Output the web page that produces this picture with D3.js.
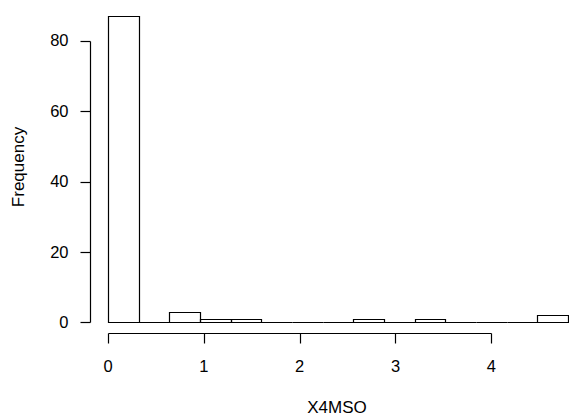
<!DOCTYPE html>
<html><head><meta charset="utf-8">
<script src="https://cdn.jsdelivr.net/npm/d3@7"></script>
<style>body{margin:0;background:#fff}text{font-family:"Liberation Sans",Arial,Helvetica,sans-serif;fill:#000}</style>
</head><body>
<script>
const binStarts = [0,0.32,0.64,0.96,1.28,1.6,1.92,2.24,2.56,2.88,3.2,3.52,3.84,4.16,4.48];
const binWidth = 0.32;
const counts = [87,0,3,1,1,0,0,0,1,0,1,0,0,0,2];
const xTicks = [0,1,2,3,4];
const yTicks = [0,20,40,60,80];
const xLabel = "X4MSO", yLabel = "Frequency";

const W=569,H=420;
const svg=d3.select("body").append("svg").attr("width",W).attr("height",H);
const x=d3.scaleLinear().domain([0,4]).range([108,491.3]);
const y=d3.scaleLinear().domain([0,80]).range([322.3,40.7]);
const fs=17, tfs=16.5;
const px=v=>Math.round(v)+0.5;

svg.append("g").selectAll("path").data(binStarts).join("path")
  .attr("d",(d,i)=>{
    const x0=px(x(d)), x1=px(x(d+binWidth)), y0=px(y(0)), y1=px(y(counts[i]));
    return `M${x0},${y0}L${x0},${y1}L${x1},${y1}L${x1},${y0}Z`;
  })
  .attr("fill","none").attr("stroke","#000").attr("stroke-width",1.2);

// x axis
const xa=svg.append("g").attr("transform","translate(0,333.5)");
xa.append("line").attr("x1",px(x(0))).attr("x2",px(x(4))).attr("stroke","#000").attr("stroke-width",1.2);
xa.selectAll(".t").data(xTicks).join("line").attr("x1",d=>px(x(d))).attr("x2",d=>px(x(d)))
  .attr("y1",0).attr("y2",10).attr("stroke","#000").attr("stroke-width",1.2);
xa.selectAll("text").data(xTicks).join("text").attr("x",d=>x(d)).attr("y",38.5).attr("text-anchor","middle")
  .style("font-size",tfs+"px").text(d=>d);

// y axis
const ya=svg.append("g").attr("transform","translate(90.5,0)");
ya.append("line").attr("y1",px(y(0))).attr("y2",px(y(80))).attr("stroke","#000").attr("stroke-width",1.2);
ya.selectAll(".t").data(yTicks).join("line").attr("y1",d=>px(y(d))).attr("y2",d=>px(y(d)))
  .attr("x1",0).attr("x2",-10).attr("stroke","#000").attr("stroke-width",1.2);
ya.selectAll("text").data(yTicks).join("text").attr("x",-22).attr("y",d=>y(d)).attr("dy","0.35em").attr("text-anchor","end")
  .style("font-size",tfs+"px").text(d=>d);

svg.append("text").attr("x",337).attr("y",413.3).attr("text-anchor","middle").style("font-size",fs+"px").text(xLabel);
svg.append("text").attr("transform","translate(24,167) rotate(-90)").attr("text-anchor","middle").style("font-size",fs+"px").text(yLabel);
</script>
</body></html>
